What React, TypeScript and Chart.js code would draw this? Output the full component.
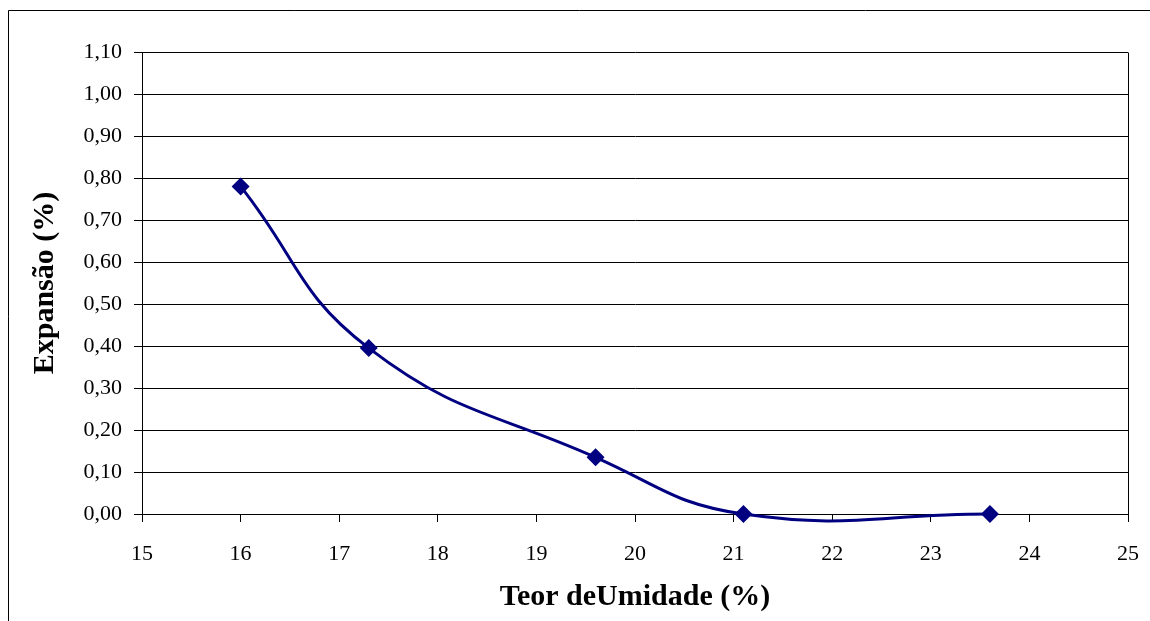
import React, { useEffect, useRef } from "react";
import { Chart, registerables } from "chart.js";

Chart.register(...registerables);

const umidade = [16, 17.3, 19.6, 21.1, 23.6];
const expansao = [0.78, 0.395, 0.135, 0.0, 0.0];
const xTicks = [15, 16, 17, 18, 19, 20, 21, 22, 23, 24, 25];
const yMin = 0;
const yMax = 1.1;
const yStep = 0.1;
const xTitle = "Teor deUmidade (%)";
const yTitle = "Expansão (%)";

const FONT = "'Liberation Serif', 'Times New Roman', serif";

const framePlugin = {
  id: "frame",
  beforeDraw(chart: any) {
    const ctx = chart.ctx;
    ctx.save();
    ctx.fillStyle = "#ffffff";
    ctx.fillRect(0, 0, chart.width, chart.height);
    ctx.strokeStyle = "#000000";
    ctx.lineWidth = 1;
    ctx.beginPath();
    ctx.moveTo(8.5, chart.height + 2);
    ctx.lineTo(8.5, 10.5);
    ctx.lineTo(chart.width + 2, 10.5);
    ctx.stroke();
    ctx.restore();
  },
  afterDatasetsDraw(chart: any) {
    const { ctx, chartArea } = chart;
    ctx.save();
    ctx.strokeStyle = "#000000";
    ctx.lineWidth = 1;
    ctx.beginPath();
    ctx.moveTo(Math.round(chartArea.right) + 0.5, Math.round(chartArea.top) + 0.5);
    ctx.lineTo(Math.round(chartArea.right) + 0.5, Math.round(chartArea.bottom) + 0.5);
    ctx.stroke();
    ctx.restore();
  },
};

export default function App() {
  const ref = useRef<HTMLCanvasElement>(null);
  useEffect(() => {
    document.body.style.margin = "0";
    const chart = new Chart(ref.current!, {
      type: "line",
      data: {
        datasets: [
          {
            data: umidade.map((x, i) => ({ x, y: expansao[i] })),
            borderColor: "#000080",
            backgroundColor: "#000080",
            borderWidth: 3,
            pointStyle: "rectRot",
            pointRadius: 9,
            pointBorderWidth: 0,
            tension: 0.45,
            clip: false as any,
          },
        ],
      },
      options: {
        animation: false,
        responsive: false,
        events: [],
        elements: { line: { capBezierPoints: false } },
        layout: { padding: { left: 0, right: 22, top: 52, bottom: 0 } },
        plugins: { legend: { display: false }, tooltip: { enabled: false } },
        scales: {
          x: {
            type: "linear",
            min: xTicks[0],
            max: xTicks[xTicks.length - 1],
            afterBuildTicks: (s: any) => {
              s.ticks = xTicks.map((v) => ({ value: v }));
            },
            afterFit: (s: any) => {
              s.height = 107;
              s.paddingLeft = 0;
              s.paddingRight = 0;
            },
            grid: {
              display: true,
              drawOnChartArea: false,
              drawTicks: true,
              tickLength: 8,
              color: "#000000",
            },
            border: { display: true, color: "#000000", width: 1 },
            ticks: {
              color: "#000000",
              font: { family: FONT, size: 22 },
              padding: 19,
              maxRotation: 0,
              autoSkip: false,
            },
            title: {
              display: true,
              text: xTitle,
              color: "#000000",
              font: { family: FONT, size: 30, weight: "bold" },
              padding: { top: 0, bottom: 6 },
            },
          },
          y: {
            type: "linear",
            min: yMin,
            max: yMax,
            afterBuildTicks: (s: any) => {
              const t = [];
              for (let i = 0; i <= Math.round((yMax - yMin) / yStep); i++) {
                t.push({ value: +(yMin + i * yStep).toFixed(2) });
              }
              s.ticks = t;
            },
            afterFit: (s: any) => {
              s.width = 142;
              s.paddingTop = 0;
              s.paddingBottom = 0;
            },
            grid: {
              display: true,
              drawOnChartArea: true,
              drawTicks: true,
              tickLength: 8,
              color: "#000000",
            },
            border: { display: true, color: "#000000", width: 1 },
            ticks: {
              color: "#000000",
              font: { family: FONT, size: 22 },
              padding: 12,
              autoSkip: false,
              callback: (v: any) => Number(v).toFixed(2).replace(".", ","),
            },
            title: {
              display: true,
              text: yTitle,
              color: "#000000",
              font: { family: FONT, size: 30, weight: "bold" },
              padding: { top: 27, bottom: 0 },
            },
          },
        },
      },
      plugins: [framePlugin],
    } as any);
    return () => chart.destroy();
  }, []);
  return <canvas ref={ref} width={1150} height={621} style={{ display: "block" }} />;
}
